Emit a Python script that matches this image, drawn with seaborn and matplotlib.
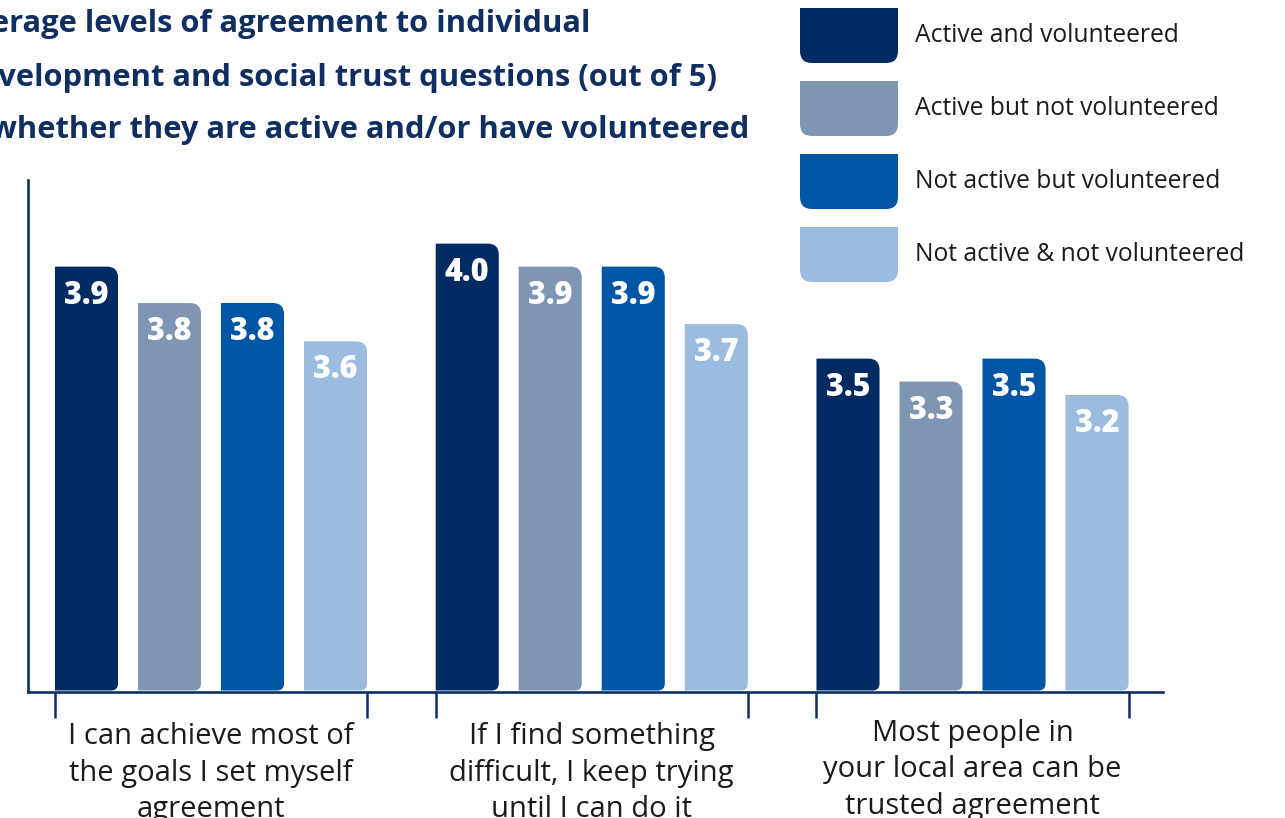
import matplotlib
matplotlib.use("Agg")
import matplotlib.pyplot as plt
from matplotlib.path import Path
from matplotlib.patches import PathPatch
from matplotlib.transforms import IdentityTransform
import seaborn as sns
import pandas as pd

# ---------------- data ----------------
categories = [
    "I can achieve most of\nthe goals I set myself\nagreement",
    "If I find something\ndifficult, I keep trying\nuntil I can do it",
    "Most people in\nyour local area can be\ntrusted agreement",
]
series = [
    "Active and volunteered",
    "Active but not volunteered",
    "Not active but volunteered",
    "Not active & not volunteered",
]
active_volunteered = [3.94, 4.06, 3.46]
active_not_volunteered = [3.75, 3.94, 3.34]
not_active_volunteered = [3.75, 3.94, 3.46]
not_active_not_volunteered = [3.55, 3.64, 3.27]

labels_active_volunteered = ["3.9", "4.0", "3.5"]
labels_active_not_volunteered = ["3.8", "3.9", "3.3"]
labels_not_active_volunteered = ["3.8", "3.9", "3.5"]
labels_not_active_not_volunteered = ["3.6", "3.7", "3.2"]

title_lines = [
    "Average levels of agreement to individual",
    "development and social trust questions (out of 5)",
    "by whether they are active and/or have volunteered",
]

colors = ["#022b63", "#7f96b3", "#0055a5", "#9bbcde"]
navy = "#0d2f66"
title_color = "#0f2e62"
text_color = "#1b1b1b"

values = [active_volunteered, active_not_volunteered,
          not_active_volunteered, not_active_not_volunteered]
labels = [labels_active_volunteered, labels_active_not_volunteered,
          labels_not_active_volunteered, labels_not_active_not_volunteered]

df = pd.DataFrame(
    [(c, s, v) for s, vals in zip(series, values) for c, v in zip(categories, vals)],
    columns=["category", "series", "value"],
)

# ---------------- figure ----------------
sns.set_theme(style="white")
plt.rcParams["font.family"] = ["Open Sans", "DejaVu Sans"]

W, H = 1285, 818
fig = plt.figure(figsize=(W / 100, H / 100), dpi=100)
ax_left, ax_right, ax_bottom, ax_top = 28, 1163, 692, 180
ax = fig.add_axes([ax_left / W, 1 - ax_bottom / H,
                   (ax_right - ax_left) / W, (ax_bottom - ax_top) / H])

sns.barplot(data=df, x="category", y="value", hue="series",
            hue_order=series, order=categories, palette=colors,
            width=0.872, gap=0.24, legend=False, ax=ax, saturation=1)

ax.set_xlim(-0.4806, 2.5003)
ax.set_ylim(1.72, 4.392)

# spines
for side in ["top", "right"]:
    ax.spines[side].set_visible(False)
for side in ["left", "bottom"]:
    ax.spines[side].set_color(navy)
    ax.spines[side].set_linewidth(1.9)
    ax.spines[side].set_zorder(4)
ax.set_yticks([])
ax.set_xlabel("")
ax.set_ylabel("")

# group edge ticks
edge_ticks = []
for i in range(len(categories)):
    edge_ticks += [i - 0.41, i + 0.41]
ax.set_xticks(edge_ticks)
ax.set_xticklabels([""] * len(edge_ticks))
ax.tick_params(axis="x", direction="out", length=19, width=1.8,
               color=navy, bottom=True)


def rounded_path(x0, y0, x1, y1, r_tr=0, r_br=0, r_tl=0, r_bl=0):
    verts = [(x0 + r_bl, y0)]
    codes = [Path.MOVETO]
    verts += [(x1 - r_br, y0)]
    codes += [Path.LINETO]
    if r_br:
        verts += [(x1, y0), (x1, y0 + r_br)]
        codes += [Path.CURVE3, Path.CURVE3]
    verts += [(x1, y1 - r_tr)]
    codes += [Path.LINETO]
    if r_tr:
        verts += [(x1, y1), (x1 - r_tr, y1)]
        codes += [Path.CURVE3, Path.CURVE3]
    verts += [(x0 + r_tl, y1)]
    codes += [Path.LINETO]
    if r_tl:
        verts += [(x0, y1), (x0, y1 - r_tl)]
        codes += [Path.CURVE3, Path.CURVE3]
    verts += [(x0, y0 + r_bl)]
    codes += [Path.LINETO]
    if r_bl:
        verts += [(x0, y0), (x0 + r_bl, y0)]
        codes += [Path.CURVE3, Path.CURVE3]
    verts += [(0, 0)]
    codes += [Path.CLOSEPOLY]
    return Path(verts, codes)


# replace bars with rounded versions + labels
base_disp = ax.transData.transform((0, ax.get_ylim()[0]))[1]
for hi, cont in enumerate(ax.containers):
    for ci, bar in enumerate(cont):
        bb = bar.get_bbox()
        (dx0, dy0), (dx1, dy1) = ax.transData.transform([(bb.x0, bb.y0), (bb.x1, bb.y1)])
        dy0 = max(dy0, base_disp)
        bar.set_visible(False)
        p = PathPatch(rounded_path(dx0, dy0 + 1.5, dx1, dy1, r_tr=11, r_br=7),
                      facecolor=colors[hi], edgecolor="none",
                      transform=IdentityTransform(), zorder=2, clip_on=False)
        ax.add_artist(p)
        ax.annotate(labels[hi][ci], xy=(bb.x0 + bb.width / 2, bb.y1),
                    xytext=(0, -29), textcoords="offset pixels",
                    ha="center", va="center", color="white",
                    fontsize=22, fontweight=800, zorder=3)

# category labels
for ci, cat in enumerate(categories):
    yoff = -81 if ci < 2 else -78
    ax.annotate(cat, xy=(ci, 0), xycoords=("data", "axes fraction"),
                xytext=(0, yoff), textcoords="offset pixels",
                ha="center", va="center", color=text_color,
                fontsize=21, linespacing=1.33,
                annotation_clip=False)

# title (left part cropped as in the original)
title_right = [590, 717, 749]
title_y = [24, 78, 130]
for line, xr, yc in zip(title_lines, title_right, title_y):
    fig.text(xr / W, 1 - yc / H, line, ha="right", va="center",
             fontsize=22.2, fontweight="bold", color=title_color)

# legend
box_x0, box_x1 = 800, 898
box_tops = [8, 81, 154, 227]
box_h = 55
for s, col, top in zip(series, colors, box_tops):
    y1 = H - top
    y0 = H - top - box_h
    fig.add_artist(PathPatch(rounded_path(box_x0, y0, box_x1, y1, r_br=12, r_bl=12),
                             facecolor=col, edgecolor="none",
                             transform=IdentityTransform()))
    fig.text(915 / W, 1 - (top + box_h / 2) / H, s, ha="left", va="center",
             fontsize=17.7, color=text_color)

fig.savefig("out.png", dpi=100)
